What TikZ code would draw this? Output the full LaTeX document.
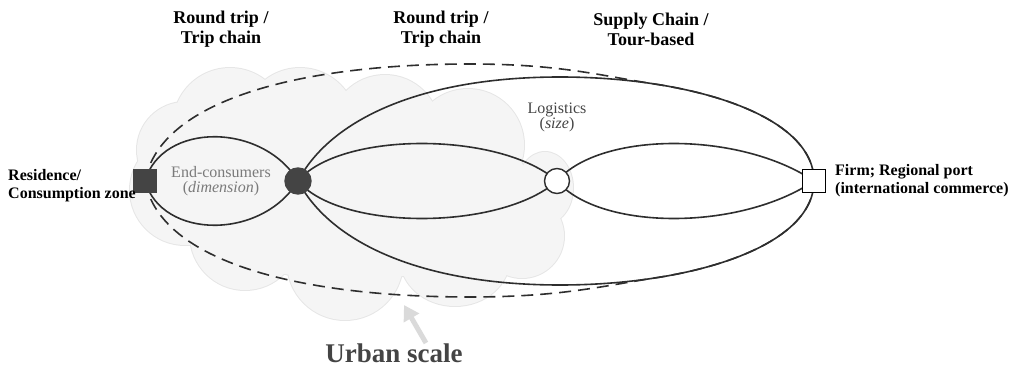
\documentclass[tikz,border=0pt]{standalone}
\usepackage{fontspec}
\setmainfont{Liberation Serif}
\usetikzlibrary{arrows.meta}
\pgfdeclarelayer{cloudlayer}
\pgfdeclarelayer{linelayer}
\pgfsetlayers{cloudlayer,linelayer,main}
\definecolor{cloudfill}{HTML}{F5F5F5}
\definecolor{cloudedge}{HTML}{E6E6E6}
\definecolor{ink}{HTML}{2E2E2E}
\definecolor{darknode}{HTML}{444444}
\definecolor{softtext}{HTML}{7A7A7A}
\definecolor{arrowgray}{HTML}{DADADA}
\begin{document}
\begin{tikzpicture}[x=1pt,y=-1pt,
  title/.style={font=\fontsize{18}{20}\selectfont\bfseries, align=center, text=black, inner sep=0pt},
  side/.style={font=\fontsize{16}{18}\selectfont\bfseries, align=left, text=black, inner sep=0pt},
  innerlabel/.style={font=\fontsize{16}{15}\selectfont, align=center, inner sep=0pt},
  route/.style={draw=ink, line width=1.6pt},
  dashroute/.style={draw=ink, line width=1.6pt, dash pattern=on 12pt off 7pt},
  sqnode/.style={rectangle, minimum size=23pt, inner sep=0pt, line width=1.4pt},
  circnode/.style={circle, minimum size=26pt, inner sep=0pt, line width=1.4pt},
  blob/.style={fill=cloudfill},
  blobedge/.style={draw=cloudedge, line width=2pt},
  ]
\useasboundingbox (0,0) rectangle (1018,369);

% nodes
\node[sqnode, fill=darknode, draw=darknode] (res) at (145,181) {};
\node[circnode, fill=darknode, draw=darknode] (hub) at (298,181) {};
\node[circnode, minimum size=25pt, fill=white, draw=ink] (log) at (557,181) {};
\node[sqnode, fill=white, draw=black] (firm) at (814,181) {};

% labels
\node[title] (t1) at (221,29) {Round trip /\\Trip chain};
\node[title] (t2) at (441,29) {Round trip /\\Trip chain};
\node[title] (t3) at (651,29) {Supply Chain /\\Tour-based};
\node[side, anchor=west] (reslab) at (8,186) {Residence/\\Consumption zone};
\node[side, anchor=west] (firmlab) at (835,181) {Firm; Regional port\\(international commerce)};
\node[innerlabel, text=softtext] (endc) at (221,181) {End-consumers\\(\textit{dimension})};
\node[innerlabel, text=darknode] (logl) at (557,117) {Logistics\\(\textit{size})};
\node[font=\fontsize{27}{30}\selectfont\bfseries, text=darknode, anchor=base, inner sep=0pt] (urban) at (394,362) {Urban scale};
\coordinate (arrtail) at (426,343);
\coordinate (arrtip) at (404,305);

% cloud
\begin{pgfonlayer}{cloudlayer}
\foreach \st in {blobedge,blob}{
  \path[\st] (185,150) circle (48);
  \path[\st] (230,125) circle (57);
  \path[\st] (300,125) circle (57);
  \path[\st] (385,130) circle (55);
  \path[\st] (468,145) circle (56);
  \path[\st] (545,188) ellipse (28 and 36);
  \path[\st] (522,236) circle (42);
  \path[\st] (455,258) ellipse (55 and 48);
  \path[\st] (345,262) circle (58);
  \path[\st] (245,235) circle (55);
  \path[\st] (185,190) circle (55);
  \path[\st] (350,190) ellipse (180 and 90);
}
\draw[arrowgray, line width=5pt, -{Triangle[width=17pt,length=15pt]}] (arrtail) -- (arrtip);
\end{pgfonlayer}

% connectors
\begin{pgfonlayer}{linelayer}
% end-consumers loop
\draw[route] (res.center) .. controls (162,122) and (262,122) .. (hub.center);
\draw[route] (res.center) .. controls (162,240) and (262,240) .. (hub.center);
% hub - logistics
\draw[route] (hub.center) .. controls (340,131) and (500,131) .. (log.center);
\draw[route] (hub.center) .. controls (340,231) and (500,231) .. (log.center);
% logistics - firm
\draw[route] (log.center) .. controls (600,131) and (740,131) .. (firm.center);
\draw[route] (log.center) .. controls (600,231) and (740,231) .. (firm.center);
% hub - firm (big)
\draw[route] (hub.center) .. controls (330,120) and (420,77) .. (560,77)
   .. controls (690,77) and (814,115) .. (firm.center);
\draw[route] (hub.center) .. controls (330,242) and (420,285) .. (560,285)
   .. controls (690,285) and (814,247) .. (firm.center);
% residence - firm (dashed)
\draw[dashroute] (res.center) .. controls (160,100) and (300,64) .. (470,64)
   .. controls (560,64) and (601,75.7) .. (654.5,84)
   .. controls (744.25,97.75) and (814,131.5) .. (firm.center);
\draw[dashroute] (res.center) .. controls (160,262) and (300,297) .. (470,297)
   .. controls (560,297) and (601,286.3) .. (654.5,278)
   .. controls (744.25,264.25) and (814,230.5) .. (firm.center);
\end{pgfonlayer}
\end{tikzpicture}
\end{document}
